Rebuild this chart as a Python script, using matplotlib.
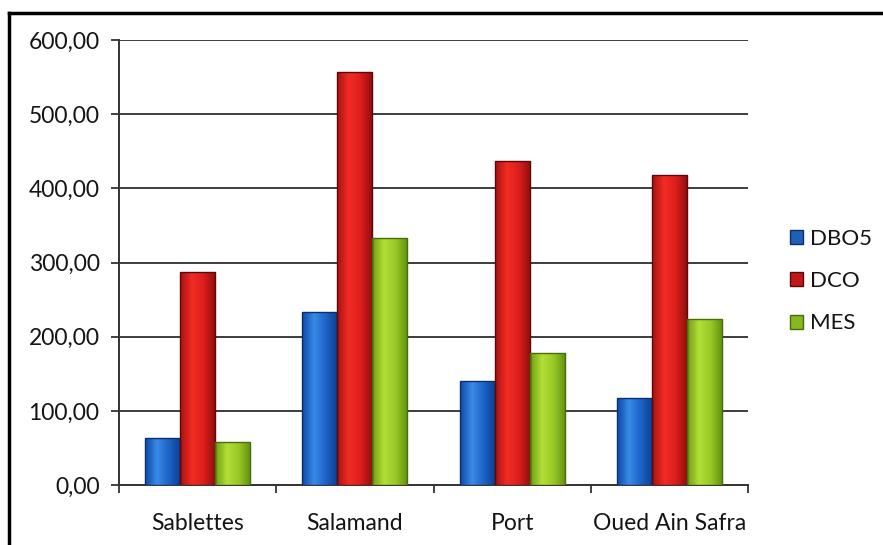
import matplotlib
matplotlib.use('Agg')
import matplotlib.pyplot as plt
import numpy as np
from matplotlib.colors import LinearSegmentedColormap
from matplotlib.lines import Line2D
from matplotlib.patches import Patch
from matplotlib.ticker import FuncFormatter

plt.rcParams['font.family'] = ['Lato', 'DejaVu Sans']

sites = ['Sablettes', 'Salamand', 'Port', 'Oued Ain Safra']
dbo5 = [63, 233, 140, 118]
dco = [287, 557, 437, 418]
mes = [58, 333, 178, 224]
yticks = [0, 100, 200, 300, 400, 500, 600]

series = [('DBO5', dbo5, ['#0d4aa8', '#3a8ae8', '#1d63c8', '#0c3f90']),
          ('DCO', dco, ['#a81212', '#f22c24', '#dc1e1a', '#8e0e0e']),
          ('MES', mes, ['#6e9e12', '#b2de36', '#98c826', '#62900e'])]
edge = {'DBO5': '#0a2f6a', 'DCO': '#5a0808', 'MES': '#4a6a10'}
legend_col = {'DBO5': '#1f5fb8', 'DCO': '#c01818', 'MES': '#86b820'}

fig = plt.figure(figsize=(8.83, 5.45), dpi=100)
ax = fig.add_axes([0.1348, 0.110, 0.7123, 0.8165])

x = np.arange(len(sites))
width = 0.223
grad = np.linspace(0, 1, 64).reshape(1, -1)

for i, (name, vals, cols) in enumerate(series):
    cmap = LinearSegmentedColormap.from_list(name, cols)
    bars = ax.bar(x + (i - 1) * width, vals, width, color='none',
                  edgecolor=edge[name], linewidth=1.0, zorder=4)
    for b in bars:
        x0, y0 = b.get_x(), b.get_y()
        im = ax.imshow(grad, cmap=cmap, aspect='auto', zorder=3,
                       extent=(x0, x0 + b.get_width(), y0, y0 + b.get_height()))
        im.set_clip_path(b)

ax.set_xlim(-0.5, len(sites) - 0.5)
ax.set_ylim(0, 600)
ax.set_yticks(yticks)
ax.yaxis.set_major_formatter(FuncFormatter(lambda v, p: f'{v:.2f}'.replace('.', ',')))
ax.set_xticks(x)
ax.set_xticklabels(sites)
ax.set_xticks(np.arange(len(sites) + 1) - 0.5, minor=True)
ax.tick_params(axis='x', which='major', length=0, pad=20, labelsize=16.5, labelcolor='#141414')
ax.tick_params(axis='x', which='minor', length=6, width=1.3, color='#333333', direction='out')
ax.tick_params(axis='y', length=6, width=1.3, color='#333333', labelsize=16.5, pad=8,
               labelcolor='#141414')

ax.yaxis.grid(True, color='#3c3c3c', linewidth=1.4)
ax.set_axisbelow(True)
for s in ['top', 'right']:
    ax.spines[s].set_visible(False)
for s in ['left', 'bottom']:
    ax.spines[s].set_color('#333333')
    ax.spines[s].set_linewidth(1.4)

handles = [Patch(facecolor=legend_col[n], edgecolor=edge[n], label=n) for n, _, _ in series]
ax.legend(handles=handles, loc='center left', bbox_to_anchor=(1.035, 0.458),
          frameon=False, fontsize=16, handlelength=0.6, handleheight=0.6,
          handletextpad=0.3, labelspacing=1.0, labelcolor='#141414')

# frame drawn along the top and left edges of the figure
fig.add_artist(Line2D([0.0103, 0.0103], [0, 0.976], transform=fig.transFigure,
                      color='black', linewidth=2.5))
fig.add_artist(Line2D([0.0103, 1.0], [0.976, 0.976], transform=fig.transFigure,
                      color='black', linewidth=2.5))

fig.savefig('out.png', dpi=100)
